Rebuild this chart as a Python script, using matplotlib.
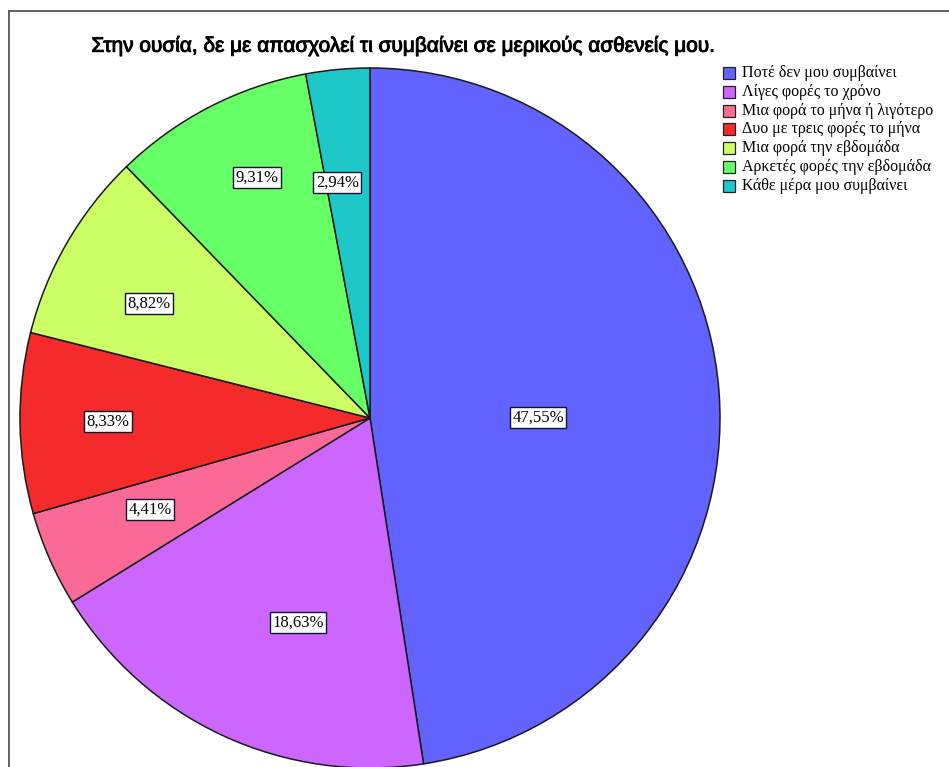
import matplotlib
matplotlib.use("Agg")
import matplotlib.pyplot as plt
import matplotlib.patheffects as pe
from matplotlib.lines import Line2D
import numpy as np

categories = [
    "Ποτέ δεν μου συμβαίνει",
    "Λίγες φορές το χρόνο",
    "Μια φορά το μήνα ή λιγότερο",
    "Δυο με τρεις φορές το μήνα",
    "Μια φορά την εβδομάδα",
    "Αρκετές φορές την εβδομάδα",
    "Κάθε μέρα μου συμβαίνει",
]
percents = [47.55, 18.63, 4.41, 8.33, 8.82, 9.31, 2.94]
colors = ["#6262ff", "#cc66ff", "#fb6a97", "#f52a2a", "#ccff66", "#66ff66", "#1ec8c8"]
title = "Στην ουσία, δε με απασχολεί τι συμβαίνει σε μερικούς ασθενείς μου."

# percentage boxes: radius (fraction of pie radius) and angle nudge in degrees
label_r = [0.48, 0.62, 0.68, 0.75, 0.71, 0.76, 0.68]
label_nudge = [-4.4, 5.3, -1.2, 0.0, 2.6, -2.2, 2.6]

W, H = 949, 767
fig = plt.figure(figsize=(W / 100, H / 100), dpi=100)

# pie area: centre (370, 418) px, radius 350 px
cx, cy, R = 370, 418, 350
ax = fig.add_axes([(cx - R) / W, (H - cy - R) / H, 2 * R / W, 2 * R / H])
wedges, _ = ax.pie(percents, colors=colors, startangle=90, counterclock=False,
                   radius=1.0, wedgeprops=dict(edgecolor="#1a1a1a", linewidth=1.1))
ax.set_xlim(-1, 1)
ax.set_ylim(-1, 1)
ax.set_aspect("equal")
ax.axis("off")

for w, p, r, d in zip(wedges, percents, label_r, label_nudge):
    ang = np.deg2rad((w.theta1 + w.theta2) / 2 + d)
    ax.text(r * np.cos(ang), r * np.sin(ang), f"{p:.2f}%".replace(".", ","),
            ha="center", va="center", fontsize=12, family="Liberation Serif",
            bbox=dict(boxstyle="square,pad=0.15", fc="white", ec="#111133", lw=1.0))

fig.text(404 / W, 1 - 46 / H, title, ha="center", va="center",
         fontsize=15, family="Liberation Sans",
         path_effects=[pe.withStroke(linewidth=0.7, foreground="black")])

# legend drawn as squares + text
ly0, dy = 73, 18.8
for i, (c, name) in enumerate(zip(colors, categories)):
    y = ly0 + i * dy
    fig.patches.append(plt.Rectangle((723 / W, 1 - (y + 6) / H), 12 / W, 12 / H,
                                     transform=fig.transFigure, fc=c, ec="#222222", lw=0.9))
    fig.text(742 / W, 1 - y / H, name, ha="left", va="center",
             fontsize=11.5, family="Liberation Serif")

# outer frame (left and top edges visible)
fig.add_artist(Line2D([8.5 / W, 8.5 / W], [0, 1 - 11 / H], transform=fig.transFigure,
                      color="#555555", lw=1.3))
fig.add_artist(Line2D([8.5 / W, 1], [1 - 11 / H, 1 - 11 / H], transform=fig.transFigure,
                      color="#555555", lw=1.3))

fig.savefig("out.png", dpi=100)
